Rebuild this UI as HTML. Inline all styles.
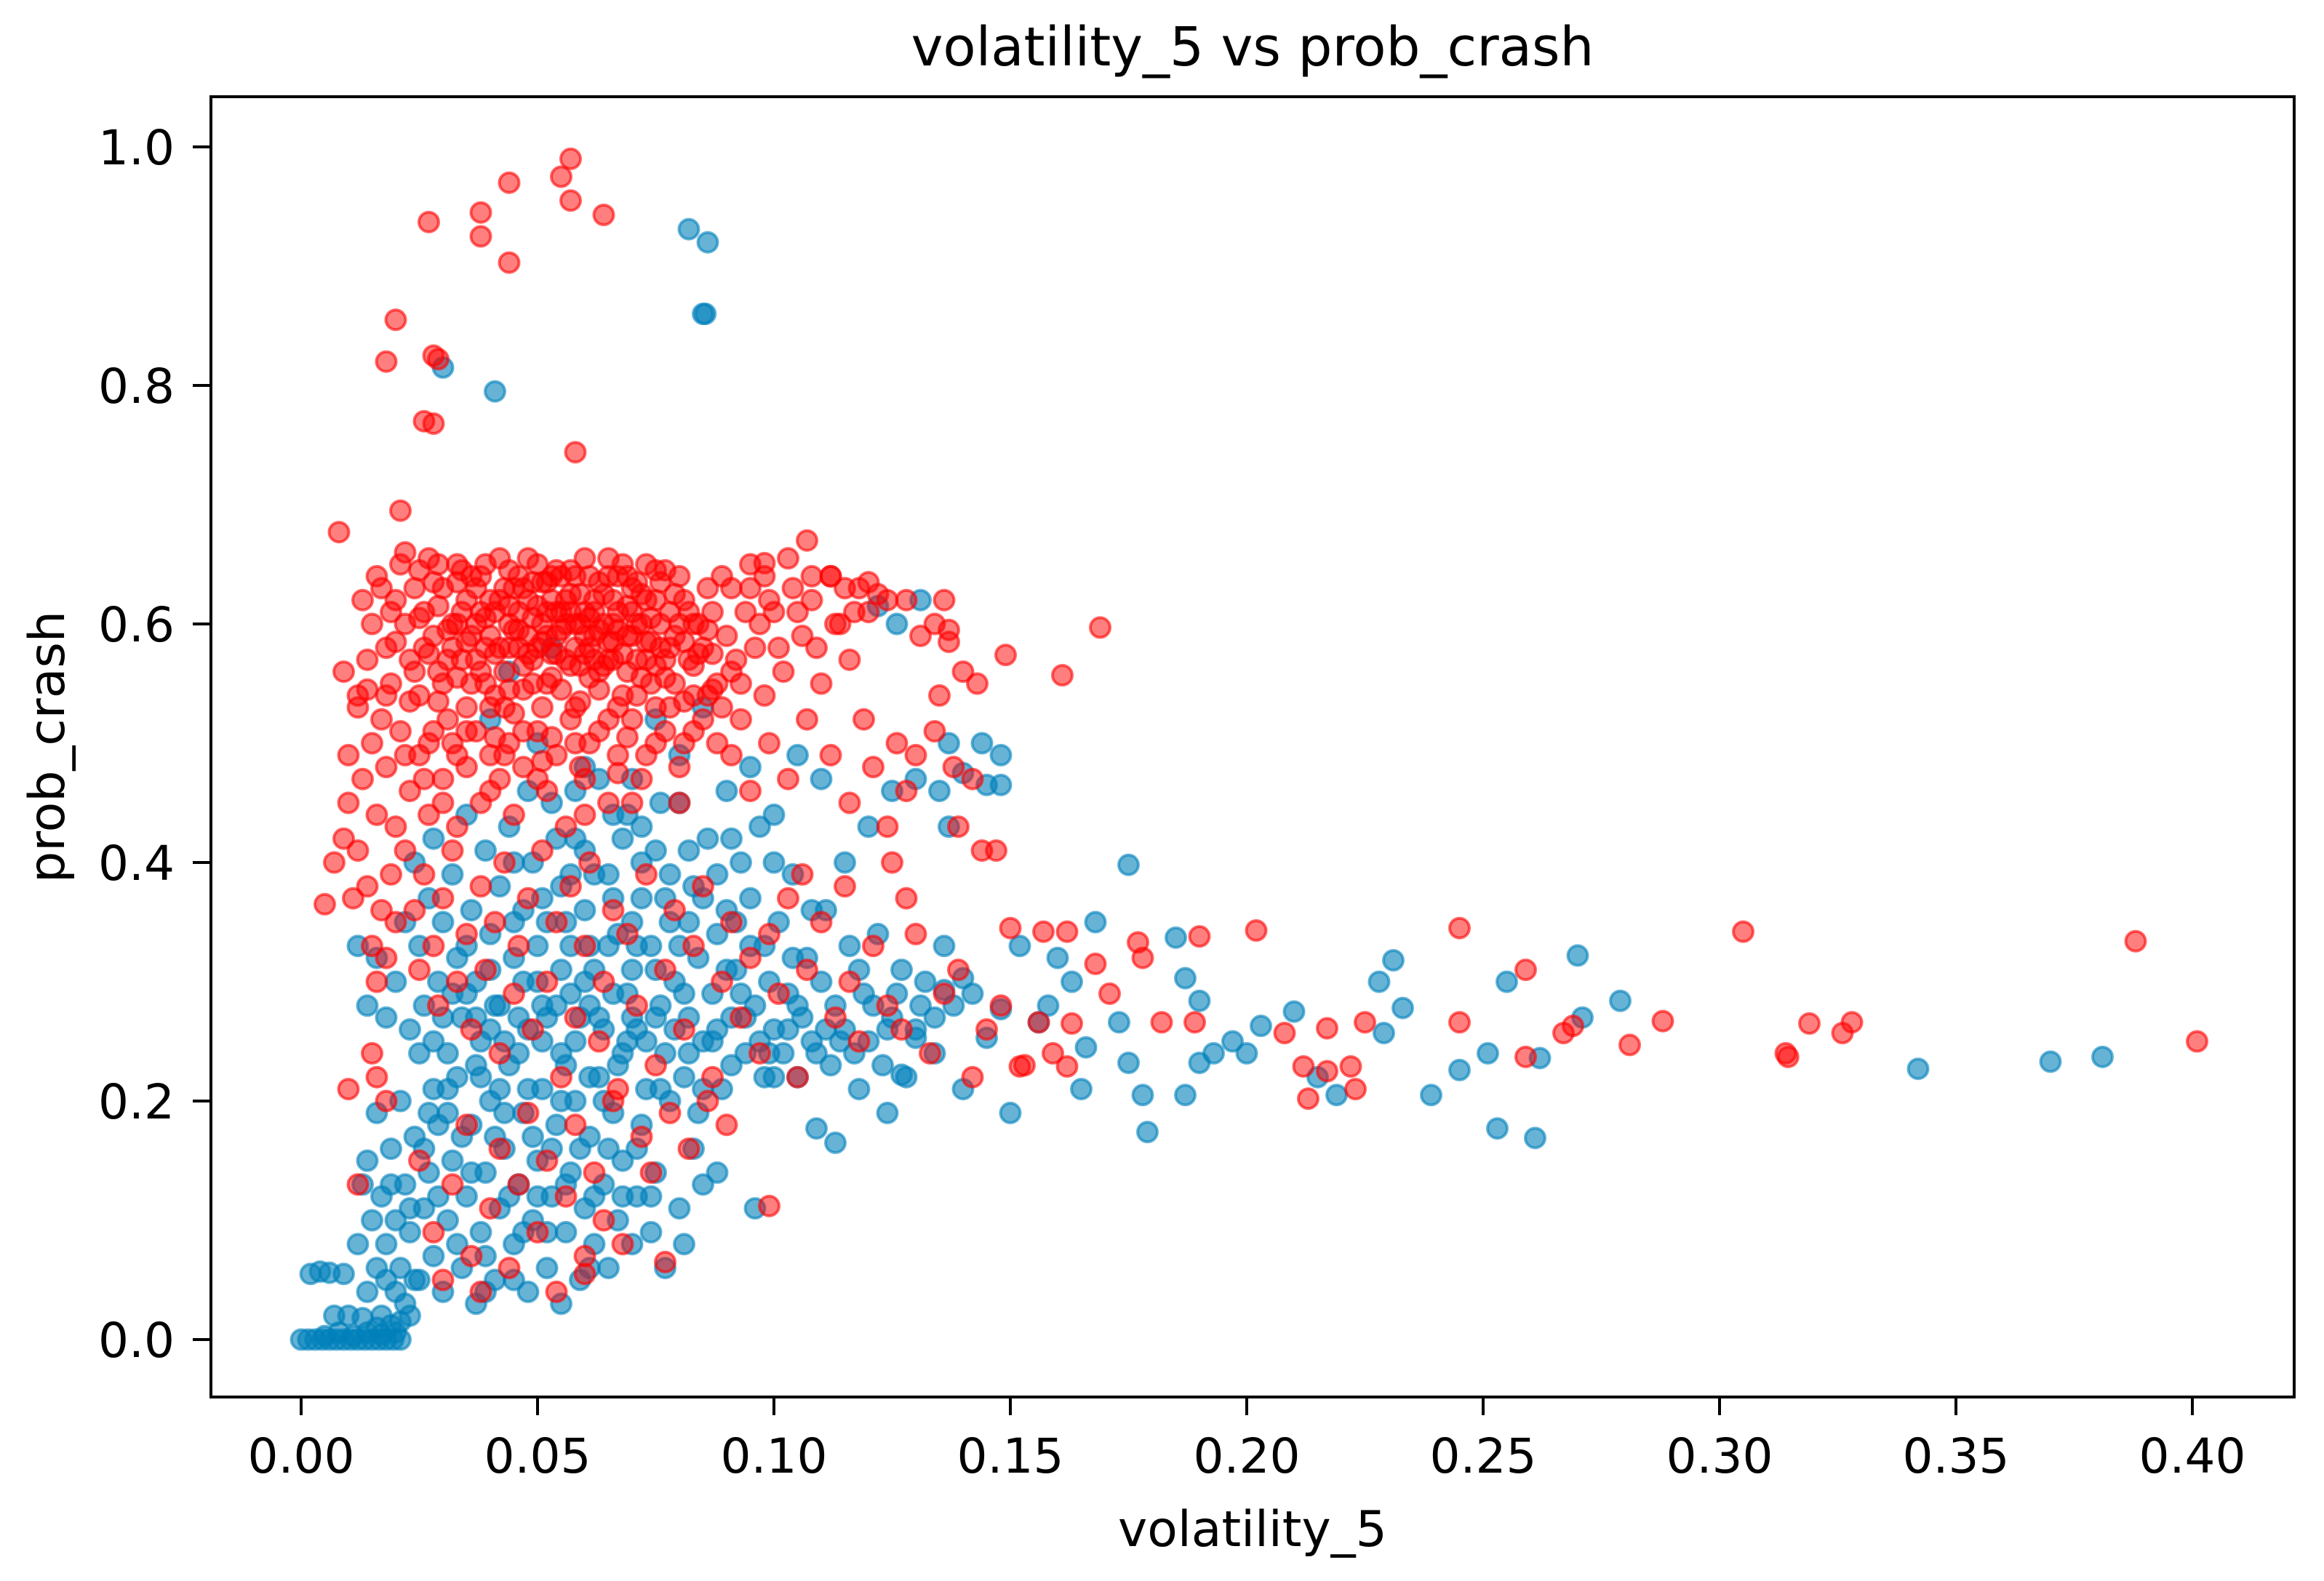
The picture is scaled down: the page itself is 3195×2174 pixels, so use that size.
<!DOCTYPE html>
<html><head><meta charset="utf-8"><style>
html,body{margin:0;padding:0;background:#fff;}
svg{display:block;}
text{font-family:"DejaVu Sans","Liberation Sans",sans-serif;fill:#000;}
</style></head><body>
<svg id="chart" width="3195" height="2174" viewBox="0 0 3195 2174" xmlns="http://www.w3.org/2000/svg">
<rect width="3195" height="2174" fill="#fff"/>
<text x="1722" y="90" font-size="74" text-anchor="middle">volatility_5 vs prob_crash</text>
<text x="1722" y="2126" font-size="68" text-anchor="middle">volatility_5</text>
<text x="0" y="0" font-size="68" text-anchor="middle" transform="translate(88,1027) rotate(-90)">prob_crash</text>
<g id="marks"></g>
<g id="axes"></g>
</svg>
<script>
const xTicks=[0,0.05,0.1,0.15,0.2,0.25,0.3,0.35,0.4];
const xTickLabels=["0.00","0.05","0.10","0.15","0.20","0.25","0.30","0.35","0.40"];
const yTicks=[0,0.2,0.4,0.6,0.8,1.0];
const yTickLabels=["0.0","0.2","0.4","0.6","0.8","1.0"];
const bluePts=[
[.000,0],[.0015,0],[.003,0],[.0045,0],[.006,0],[.0075,0],[.009,0],[.0105,0],[.012,0],[.0135,0],[.015,0],[.0165,0],[.018,0],[.0195,0],[.021,0],[.005,.003],[.011,.003],[.017,.004],[.008,.006],[.014,.006],[.020,.006],
[.002,.055],[.004,.057],[.006,.056],[.009,.055],[.007,.02],[.010,.02],[.013,.018],[.016,.01],[.019,.012],[.021,.015],[.022,.03],[.020,.04],[.018,.05],[.017,.02],[.014,.04],[.024,.05],[.023,.02],
[.012,.08],[.013,.13],[.014,.15],[.015,.10],[.016,.06],[.016,.19],[.017,.12],[.018,.08],[.019,.16],[.020,.10],[.021,.06],[.021,.20],[.022,.13],[.023,.09],[.024,.17],[.025,.05],[.025,.24],[.026,.11],[.027,.14],[.028,.07],[.028,.21],[.029,.18],[.030,.04],[.030,.27],[.031,.10],[.032,.15],[.033,.22],[.034,.06],[.035,.12],[.035,.29],[.036,.18],[.037,.03],[.038,.09],[.038,.25],[.039,.14],[.040,.20],[.041,.05],[.042,.11],[.042,.28],[.043,.16],[.044,.23],[.045,.08],[.046,.13],[.047,.19],[.048,.04],[.048,.26],[.049,.10],[.050,.15],[.051,.21],[.052,.06],[.053,.12],[.054,.18],[.055,.03],[.055,.24],[.056,.09],[.057,.14],[.058,.20],[.059,.05],[.060,.11],[.061,.17],[.062,.08],[.063,.22],[.064,.13],[.065,.06],[.066,.19],[.067,.10],[.068,.15],[.069,.25],[.070,.08],[.071,.12],[.072,.18],[.074,.09],[.075,.14],[.077,.06],[.078,.20],[.080,.11],[.083,.16],[.085,.13],[.088,.14],[.084,.19],[.081,.08],
[.029,.12],[.033,.08],[.036,.14],[.039,.07],[.041,.17],[.044,.12],[.047,.09],[.050,.12],[.053,.16],[.056,.13],[.059,.16],[.062,.12],[.065,.16],[.068,.12],[.071,.16],[.074,.12],[.023,.11],[.026,.16],[.019,.13],[.031,.19],[.052,.09],[.061,.06],[.045,.05],[.039,.04],
[.012,.33],[.014,.28],[.016,.32],[.018,.27],[.020,.30],[.022,.35],[.023,.26],[.024,.40],[.025,.33],[.026,.28],[.027,.37],[.028,.42],[.029,.30],[.030,.35],[.031,.24],[.032,.39],[.033,.32],[.034,.27],[.035,.44],[.036,.36],[.037,.30],[.038,.22],[.039,.41],[.040,.34],[.041,.28],[.042,.38],[.043,.25],[.044,.43],[.045,.32],[.046,.27],[.047,.36],[.048,.21],[.049,.40],[.050,.30],[.051,.25],[.052,.35],[.053,.45],[.054,.28],[.055,.38],[.056,.23],[.057,.33],[.058,.42],[.059,.27],[.060,.36],[.061,.22],[.062,.31],[.063,.47],[.064,.26],[.065,.39],[.066,.29],[.067,.34],[.068,.24],[.069,.44],[.070,.31],[.071,.26],[.072,.37],[.073,.21],[.074,.33],[.075,.41],[.076,.28],[.077,.24],[.078,.35],[.079,.30],[.080,.45],[.081,.22],[.082,.27],[.083,.38],[.084,.32],[.085,.25],[.086,.42],[.087,.29],[.088,.34],[.089,.21],[.090,.36],[.091,.27],[.092,.31],[.093,.40],[.094,.24],[.095,.33],[.096,.28],[.097,.43],[.098,.22],[.099,.30],[.100,.26],[.101,.35],[.102,.24],[.103,.29],[.104,.39],[.105,.22],[.106,.27],[.107,.32],[.108,.25],[.110,.30],[.111,.36],[.112,.23],[.113,.28],[.115,.26],[.116,.33],[.118,.21],[.119,.29],[.120,.25],[.122,.34],[.123,.23],[.125,.27],[.127,.31],[.128,.22],[.130,.26],[.132,.30],[.134,.24],[.136,.33],[.138,.28],[.140,.21],[.142,.29],
[.027,.19],[.031,.21],[.034,.17],[.037,.23],[.040,.26],[.043,.19],[.046,.24],[.049,.17],[.052,.27],[.055,.20],[.058,.25],[.061,.28],[.064,.20],[.067,.23],[.070,.27],[.073,.25],[.076,.21],[.079,.26],[.082,.24],[.085,.21],[.088,.26],[.091,.23],[.094,.27],[.097,.25],[.100,.22],[.103,.26],[.109,.24],[.114,.25],[.121,.28],[.045,.35],[.050,.33],[.055,.31],[.060,.30],[.065,.33],[.070,.35],[.075,.31],[.080,.33],[.085,.37],[.090,.31],[.095,.37],[.040,.31],[.035,.33],[.062,.39],[.072,.40],[.078,.39],[.088,.39],[.045,.40],[.058,.46],[.068,.42],[.076,.45],[.048,.46],
[.047,.30],[.051,.28],[.057,.29],[.063,.27],[.069,.29],[.075,.27],[.081,.29],[.087,.25],[.093,.29],[.099,.24],[.105,.28],[.111,.26],[.117,.24],[.124,.26],[.131,.28],[.051,.37],[.056,.35],[.061,.33],[.066,.37],[.071,.33],[.077,.37],[.082,.35],[.092,.35],[.098,.33],[.104,.32],[.060,.41],[.066,.44],[.072,.43],[.082,.41],[.091,.42],[.100,.40],[.108,.36],[.118,.31],[.126,.29],[.134,.27],[.042,.21],[.037,.27],[.032,.29],[.028,.25],[.054,.42],[.057,.39],
[.044,.56],[.053,.58],[.040,.52],[.050,.50],[.060,.48],[.070,.47],[.080,.49],[.090,.46],[.100,.44],[.110,.47],[.120,.43],[.115,.40],[.125,.46],[.075,.52],[.085,.53],[.095,.48],[.105,.49],[.130,.47],[.135,.46],[.140,.475],[.145,.465],[.148,.465],[.126,.60],[.122,.615],[.137,.43],
[.082,.931],[.086,.92],[.085,.86],[.0855,.86],[.030,.815],[.041,.795],
[.342,.227],[.370,.233],[.381,.237],[.253,.177],[.261,.169],[.239,.205],[.270,.322],[.255,.30],[.231,.318],[.228,.30],[.233,.278],[.245,.226],[.251,.24],[.229,.257],[.262,.236],[.271,.27],[.279,.284],[.210,.275],[.203,.263],[.200,.24],[.197,.25],[.193,.24],[.190,.232],[.187,.205],[.179,.174],[.178,.205],[.175,.232],[.185,.337],[.175,.398],[.187,.303],[.190,.284],[.168,.35],[.173,.266],[.165,.21],[.156,.266],[.150,.19],[.145,.253],[.148,.277],[.140,.303],[.136,.293],[.130,.253],[.127,.222],[.113,.165],[.124,.19],[.109,.177],[.096,.11],[.137,.50],[.148,.49],[.144,.50],[.131,.62],[.160,.32],[.163,.30],[.158,.28],[.166,.245],[.152,.33],[.219,.205],[.215,.22]
];
const redPts=[
[.013,.62],[.015,.60],[.016,.64],[.018,.58],[.019,.55],[.020,.62],[.021,.65],[.022,.60],[.023,.57],[.024,.63],[.025,.54],[.026,.61],[.027,.655],[.028,.59],[.029,.56],[.030,.63],[.031,.52],[.032,.60],[.033,.65],[.034,.57],[.035,.62],[.036,.55],[.037,.60],[.038,.64],[.039,.58],[.040,.53],[.041,.61],[.042,.655],[.043,.56],[.044,.60],[.045,.63],[.046,.58],[.047,.51],[.048,.62],[.049,.57],[.050,.65],[.051,.60],[.052,.55],[.053,.62],[.054,.59],[.055,.64],[.056,.57],[.057,.61],[.058,.53],[.059,.60],[.060,.655],[.061,.58],[.062,.62],[.063,.56],[.064,.60],[.065,.64],[.066,.57],[.067,.61],[.068,.54],[.069,.59],[.070,.63],[.071,.57],[.072,.60],[.073,.65],[.074,.55],[.075,.62],[.076,.58],[.078,.61],[.080,.64],[.082,.57],[.084,.60],[.086,.63],[.088,.55],[.090,.59],
[.014,.57],[.017,.52],[.019,.61],[.022,.66],[.024,.56],[.026,.58],[.028,.635],[.030,.55],[.032,.58],[.034,.61],[.036,.64],[.038,.56],[.040,.59],[.042,.62],[.044,.545],[.046,.61],[.048,.655],[.050,.58],[.052,.61],[.054,.645],[.056,.60],[.058,.58],[.060,.61],[.062,.59],[.064,.565],[.066,.62],[.068,.65],[.070,.59],[.072,.555],[.074,.605],[.076,.635],[.077,.57],[.079,.59],[.081,.62],[.083,.54],[.085,.58],[.087,.61],[.089,.64],[.092,.57],[.094,.61],
[.031,.57],[.033,.60],[.035,.585],[.037,.63],[.039,.605],[.041,.575],[.043,.63],[.045,.595],[.047,.565],[.049,.605],[.051,.635],[.053,.575],[.055,.595],[.057,.625],[.059,.565],[.061,.605],[.063,.635],[.065,.585],[.067,.595],[.069,.615],[.071,.635],[.073,.585],[.075,.565],[.044,.58],[.046,.64],[.052,.59],[.058,.64],[.062,.57],[.048,.59],[.054,.61],[.060,.59],[.066,.60],
[.036,.59],[.038,.61],[.040,.62],[.042,.58],[.044,.615],[.046,.595],[.048,.575],[.050,.615],[.052,.635],[.054,.575],[.056,.62],[.058,.60],[.060,.575],[.062,.61],[.064,.625],[.066,.585],[.068,.575],[.070,.61],[.072,.625],[.074,.585],[.076,.60],[.078,.58],[.080,.60],[.082,.61],[.084,.575],[.086,.595],[.039,.55],[.043,.53],[.047,.545],[.051,.53],[.055,.545],[.059,.535],[.063,.545],[.067,.53],[.071,.54],[.075,.53],[.079,.55],[.083,.565],[.087,.575],[.035,.53],[.031,.595],[.027,.575],[.023,.535],[.020,.585],[.017,.63],[.025,.605],[.029,.615],[.033,.635],[.049,.635],[.053,.64],[.057,.645],[.061,.64],[.065,.655],[.069,.64],[.073,.62],[.077,.645],[.081,.585],[.045,.525],[.057,.52],[.065,.52],[.041,.505],[.053,.505],[.061,.5],[.069,.505],[.077,.51],[.033,.49],[.026,.47],
[.025,.645],[.029,.65],[.034,.645],[.039,.65],[.044,.645],[.047,.63],[.051,.585],[.055,.61],[.059,.625],[.063,.595],[.067,.64],[.071,.60],[.075,.645],[.079,.625],[.083,.60],[.087,.545],[.041,.54],[.037,.57],[.033,.555],[.029,.535],[.049,.55],[.053,.555],[.057,.565],[.061,.555],[.065,.57],[.069,.56],[.073,.57],[.077,.555],[.081,.535],[.085,.52],[.089,.53],[.093,.55],[.097,.60],[.101,.58],[.105,.61],[.109,.58],[.113,.60],[.117,.61],[.091,.63],[.095,.63],[.099,.62],[.035,.51],[.043,.49],[.051,.485],[.059,.48],[.067,.475],[.073,.49],[.081,.50],[.027,.50],[.022,.49],[.018,.54],[.030,.45],[.040,.46],[.050,.47],[.060,.44],[.070,.45],[.080,.45],
[.010,.49],[.012,.54],[.013,.47],[.015,.50],[.016,.44],[.018,.48],[.020,.43],[.021,.51],[.023,.46],[.025,.49],[.027,.44],[.028,.51],[.030,.47],[.032,.50],[.033,.43],[.035,.48],[.037,.51],[.038,.45],[.040,.49],[.042,.47],[.044,.50],[.045,.44],[.047,.48],[.050,.51],[.052,.46],[.054,.49],[.056,.43],[.058,.50],[.060,.47],[.063,.51],[.065,.45],[.067,.49],[.070,.52],[.072,.47],[.075,.50],[.078,.53],[.080,.48],[.083,.51],[.086,.54],[.088,.50],[.091,.56],[.093,.52],[.096,.58],[.098,.54],[.100,.61],[.102,.56],[.104,.63],[.106,.59],[.108,.62],[.110,.55],[.112,.64],[.114,.60],[.116,.57],[.118,.63],[.120,.61],[.122,.625],[.124,.62],[.119,.52],[.121,.48],[.126,.50],[.128,.46],[.124,.43],[.116,.45],[.112,.49],[.107,.52],[.103,.47],[.099,.50],[.095,.46],[.091,.49],
[.005,.365],[.007,.40],[.009,.42],[.010,.45],[.011,.37],[.012,.41],[.014,.38],[.015,.33],[.016,.30],[.017,.36],[.018,.32],[.019,.39],[.020,.35],[.012,.53],[.014,.545],[.009,.56],
[.022,.41],[.024,.36],[.025,.31],[.026,.39],[.028,.33],[.029,.28],[.030,.37],[.032,.41],[.033,.30],[.035,.34],[.036,.26],[.038,.38],[.039,.31],[.041,.35],[.042,.24],[.043,.40],[.045,.29],[.046,.33],[.048,.37],[.049,.26],[.051,.41],[.052,.30],[.054,.35],[.055,.22],[.057,.38],[.058,.27],[.060,.33],[.061,.40],[.063,.25],[.064,.30],[.066,.36],[.067,.21],[.069,.34],[.071,.28],[.073,.39],[.075,.23],[.077,.31],[.079,.36],[.081,.26],[.083,.33],[.085,.38],[.087,.22],[.089,.30],[.091,.35],[.093,.27],[.095,.32],[.097,.24],[.099,.34],[.101,.29],[.103,.37],[.105,.22],[.107,.31],[.110,.35],[.113,.27],[.116,.30],[.118,.25],[.121,.33],[.124,.28],[.127,.26],[.130,.34],[.133,.24],[.136,.29],[.139,.31],[.142,.22],[.145,.26],[.148,.28],[.150,.345],[.153,.23],
[.015,.24],[.016,.22],[.018,.20],[.025,.15],[.028,.09],[.030,.05],[.032,.13],[.035,.18],[.036,.07],[.038,.04],[.040,.11],[.042,.16],[.044,.06],[.046,.13],[.048,.19],[.050,.09],[.052,.15],[.054,.04],[.056,.12],[.058,.18],[.060,.07],[.062,.14],[.064,.10],[.066,.20],[.068,.08],[.072,.17],[.074,.14],[.078,.19],[.082,.16],[.086,.20],[.090,.18],[.060,.055],
[.095,.65],[.098,.64],[.103,.655],[.108,.64],[.115,.63],[.120,.635],[.128,.62],[.131,.59],[.134,.60],[.137,.585],[.140,.56],[.143,.55],[.135,.54],[.134,.51],[.130,.49],[.138,.48],[.142,.47],[.144,.41],[.139,.43],[.125,.40],[.128,.37],[.115,.38],[.106,.39],
[.057,.99],[.055,.975],[.044,.97],[.057,.955],[.038,.945],[.064,.943],[.027,.937],[.038,.925],[.044,.903],[.020,.855],[.028,.825],[.029,.822],[.018,.82],[.026,.77],[.028,.768],[.058,.744],[.021,.695],[.008,.677],[.107,.67],
[.098,.651],[.112,.64],[.136,.62],[.137,.595],[.169,.597],[.149,.574],[.161,.557],[.147,.41],
[.305,.342],[.388,.334],[.245,.345],[.202,.343],[.259,.31],[.288,.267],[.401,.25],[.328,.266],[.319,.265],[.326,.257],[.314,.24],[.3145,.237],[.281,.247],[.267,.257],[.269,.263],[.259,.237],[.245,.266],[.225,.266],[.208,.257],[.217,.261],[.212,.229],[.213,.202],[.217,.225],[.222,.229],[.223,.21],[.182,.266],[.189,.266],[.178,.32],[.177,.333],[.19,.338],[.162,.342],[.157,.342],[.168,.315],[.171,.29],[.163,.265],[.156,.266],[.152,.229],[.159,.24],[.162,.229],
[.099,.112],[.077,.065],[.010,.21],[.012,.13]
];
const X0=414, XS=6500, Y0=1842, YS=1640;
function xs(v){return X0+v*XS;}
function ys(v){return Y0-v*YS;}
const NS="http://www.w3.org/2000/svg";
const marks=document.getElementById('marks');
function drawSeries(pts,color,name,fo){
  const g=document.createElementNS(NS,'g');
  
  
  pts.forEach(p=>{
    const c=document.createElementNS(NS,'circle');
    
    
    c.setAttribute('cx',xs(p[0]));c.setAttribute('cy',ys(p[1]));c.setAttribute('r',13.5);
    c.setAttribute('fill',color);c.setAttribute('fill-opacity',fo);
    c.setAttribute('stroke',color);c.setAttribute('stroke-opacity',0.6);c.setAttribute('stroke-width',4);
    g.appendChild(c);
  });
  marks.appendChild(g);
}
drawSeries(bluePts,'#0080ba','series-blue',0.6);
drawSeries(redPts,'#ff0000','series-red',0.5);
const axes=document.getElementById('axes');
const frame=document.createElementNS(NS,'rect');


frame.setAttribute('x',290);frame.setAttribute('y',133);frame.setAttribute('width',2864);frame.setAttribute('height',1788);
frame.setAttribute('fill','none');frame.setAttribute('stroke','#000');frame.setAttribute('stroke-width',4);
axes.appendChild(frame);
xTicks.forEach((v,i)=>{
  const l=document.createElementNS(NS,'line');
  
  
  l.setAttribute('x1',xs(v));l.setAttribute('x2',xs(v));l.setAttribute('y1',1921);l.setAttribute('y2',1946);
  l.setAttribute('stroke','#000');l.setAttribute('stroke-width',4);axes.appendChild(l);
  const t=document.createElementNS(NS,'text');
  
  
  t.setAttribute('x',xs(v));t.setAttribute('y',2025);t.setAttribute('font-size',66);t.setAttribute('text-anchor','middle');
  t.textContent=xTickLabels[i];axes.appendChild(t);
});
yTicks.forEach((v,i)=>{
  const l=document.createElementNS(NS,'line');
  
  
  l.setAttribute('x1',265);l.setAttribute('x2',290);l.setAttribute('y1',ys(v));l.setAttribute('y2',ys(v));
  l.setAttribute('stroke','#000');l.setAttribute('stroke-width',4);axes.appendChild(l);
  const t=document.createElementNS(NS,'text');
  
  
  t.setAttribute('x',240);t.setAttribute('y',ys(v)+24);t.setAttribute('font-size',66);t.setAttribute('text-anchor','end');
  t.textContent=yTickLabels[i];axes.appendChild(t);
});
</script>
</body></html>
